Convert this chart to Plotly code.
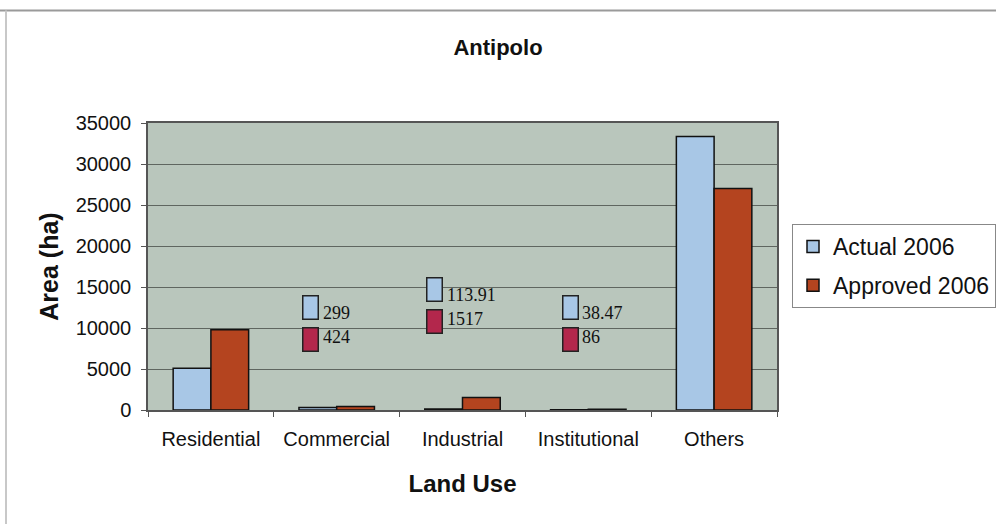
import plotly.graph_objects as go

# Land use areas for Antipolo, in hectares
categories = ["Residential", "Commercial", "Industrial", "Institutional", "Others"]
actual_2006 = [5100, 299, 113.91, 38.47, 33350]
approved_2006 = [9800, 424, 1517, 86, 27000]
series_names = ["Actual 2006", "Approved 2006"]

# Which categories get value call-outs (the bars too small to read)
callout_categories = ["Commercial", "Industrial", "Institutional"]

BLUE = "#a8c7e6"
RUST = "#b4441f"
CRIMSON = "#b3274c"
PLOT_BG = "#b9c6bc"
SANS = "Liberation Sans, Arial, sans-serif"
SERIF = "Liberation Serif, Times New Roman, serif"

W, H = 996, 524
ML, MR, MT, MB = 148, 219, 123, 114
PW, PH = W - ML - MR, H - MT - MB

fig = go.Figure()
fig.add_trace(go.Bar(
    x=categories, y=actual_2006, name=series_names[0],
    marker=dict(color=BLUE, line=dict(color="#111111", width=1.5)),
    legendgroup="a",
))
fig.add_trace(go.Bar(
    x=categories, y=approved_2006, name=series_names[1],
    marker=dict(color=RUST, line=dict(color="#111111", width=1.5)),
    legendgroup="b",
))

# call-out boxes: small key square + value text for the tiny bars
callout_layout = {
    # category: (x shift px, y of blue key, y of red key) in axis units
    "Commercial": (-26, 12450, 8650),
    "Industrial": (-28, 14650, 10850),
    "Institutional": (-18, 12450, 8650),
}
annotations = []
for cat in callout_categories:
    i = categories.index(cat)
    xs, yb, yr = callout_layout[cat]
    for val, ycen, col, tdy in ((actual_2006[i], yb, BLUE, -5), (approved_2006[i], yr, CRIMSON, 2)):
        annotations.append(dict(
            x=cat, y=ycen, xref="x", yref="y", text="", showarrow=False,
            width=14, height=22, bgcolor=col, bordercolor="#222222", borderwidth=1.5,
            xshift=xs, borderpad=0,
        ))
        annotations.append(dict(
            x=cat, y=ycen, xref="x", yref="y", text=f"{val:g}", showarrow=False,
            xanchor="left", yanchor="middle", xshift=xs + 10, yshift=tdy,
            font=dict(family=SERIF, size=18, color="#111111"),
        ))

fig.update_layout(
    width=W, height=H,
    margin=dict(l=ML, r=MR, t=MT, b=MB, autoexpand=False),
    paper_bgcolor="white",
    plot_bgcolor=PLOT_BG,
    barmode="group",
    bargap=0.4,
    bargroupgap=0,
    title=dict(
        text="<b>Antipolo</b>", x=0.5, xref="container", xanchor="center",
        y=1 - 47 / H, yanchor="middle", yref="container",
        font=dict(family=SANS, size=22, color="#111111"),
    ),
    font=dict(family=SANS, size=20, color="#111111"),
    xaxis=dict(
        showline=True, linecolor="#555555", linewidth=1.5,
        ticks="outside", ticklen=5, tickcolor="#555555", tickson="boundaries",
        tickfont=dict(size=20, family=SANS),
        ticklabelstandoff=10,
        title=dict(text="<b>Land Use</b>", font=dict(size=24, family=SANS), standoff=26),
        mirror=True,
    ),
    yaxis=dict(
        range=[0, 35000], dtick=5000, tickformat="d",
        showgrid=True, gridcolor="#5f6660", gridwidth=1,
        showline=True, linecolor="#555555", linewidth=1.5, mirror=True,
        ticks="outside", ticklen=5, tickcolor="#555555",
        tickfont=dict(size=20, family=SANS),
        ticklabelstandoff=6,
        zeroline=False,
        title=dict(text="<b>Area (ha)</b>", font=dict(size=25, family=SANS), standoff=10),
    ),
    legend=dict(
        xref="container", yref="container",
        x=792 / W, y=1 - 224 / H, xanchor="left", yanchor="top",
        bordercolor="#888888", borderwidth=1, bgcolor="white",
        font=dict(family=SANS, size=23, color="#111111"),
        traceorder="grouped", tracegroupgap=6,
        itemwidth=30,
    ),
    annotations=annotations,
    shapes=[
        # outer frame edges of the chart area
        dict(type="line", xref="paper", yref="paper",
             x0=(0 - ML) / PW, x1=(W - ML) / PW,
             y0=1 + (MT - 10.5) / PH, y1=1 + (MT - 10.5) / PH,
             line=dict(color="#9a9a9a", width=2)),
        dict(type="line", xref="paper", yref="paper",
             x0=(6 - ML) / PW, x1=(6 - ML) / PW,
             y0=1 + (MT - 10.5) / PH, y1=-MB / PH,
             line=dict(color="#c8c8c8", width=2)),
    ],
)

fig.write_html("out.html")
